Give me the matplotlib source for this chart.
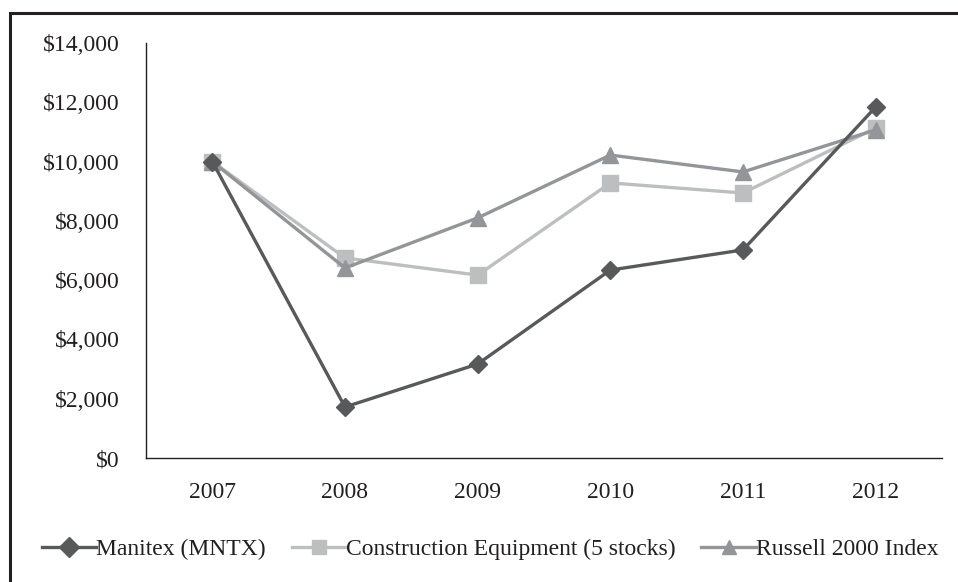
import matplotlib.pyplot as plt
from matplotlib.patches import Rectangle

years = ['2007', '2008', '2009', '2010', '2011', '2012']
manitex = [10000, 1720, 3170, 6340, 7020, 11840]
construction = [10000, 6750, 6170, 9280, 8940, 11130]
russell = [10000, 6410, 8100, 10220, 9650, 11070]
yticks = [0, 2000, 4000, 6000, 8000, 10000, 12000, 14000]

plt.rcParams['font.family'] = ['Liberation Serif', 'DejaVu Serif']

W, H = 958, 582
fig = plt.figure(figsize=(W / 100, H / 100), dpi=100)
ax = fig.add_axes([146 / W, 1 - 458 / H, (942 - 146) / W, (458 - 43) / H])

x = range(len(years))
ax.plot(x, manitex, color='#58595b', lw=2.4, marker='D', ms=9,
        label='Manitex (MNTX)', zorder=3)
ax.plot(x, construction, color='#bcbec0', lw=2.4, marker='s', ms=12,
        label='Construction Equipment (5 stocks)', zorder=2)
ax.plot(x, russell, color='#939598', lw=2.4, marker='^', ms=12,
        label='Russell 2000 Index', zorder=2.5)

ax.set_xlim(-0.5, len(years) - 0.5)
ax.set_ylim(0, 14000)
ax.set_xticks(list(x))
ax.set_xticklabels(years)
ax.set_yticks(yticks)
ax.set_yticklabels(['${:,}'.format(v) for v in yticks])
ax.tick_params(axis='both', length=0, labelsize=17, colors='#231f20')
ax.tick_params(axis='y', pad=19)
ax.tick_params(axis='x', pad=17)
for s in ['top', 'right']:
    ax.spines[s].set_visible(False)
for s in ['left', 'bottom']:
    ax.spines[s].set_color('#231f20')
    ax.spines[s].set_linewidth(1.0)

leg = fig.legend(loc='center', bbox_to_anchor=(490 / W, 1 - 549 / H), ncol=3,
                 frameon=False, fontsize=17, handlelength=2.3, handletextpad=0.0,
                 columnspacing=1.1, borderpad=0, labelcolor='#231f20')
for h in leg.legend_handles:
    h.set_markersize(10)

# outer frame
fig.patches.append(Rectangle((10 / W, -0.05), 1.1, 1 - 13 / H + 0.05,
                             transform=fig.transFigure, fill=False,
                             edgecolor='#231f20', lw=2.2))

fig.savefig('out.png', dpi=100)
